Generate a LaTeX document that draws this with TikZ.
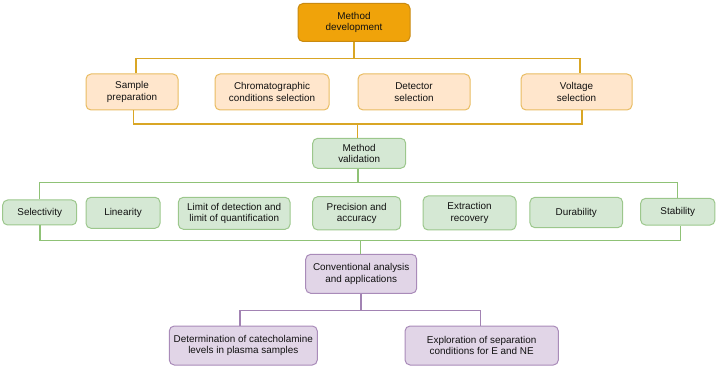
\documentclass[tikz,border=0pt]{standalone}
\usepackage{fontspec}
\setmainfont{Liberation Sans}
\definecolor{mdfill}{HTML}{F0A30A}
\definecolor{mddraw}{HTML}{C98A10}
\definecolor{ofill}{HTML}{FFE6CC}
\definecolor{odraw}{HTML}{E9BC62}
\definecolor{oline}{HTML}{D9A625}
\definecolor{gfill}{HTML}{D5E8D4}
\definecolor{gdraw}{HTML}{9CC78C}
\definecolor{gline}{HTML}{8FC276}
\definecolor{pfill}{HTML}{E1D5E7}
\definecolor{pdraw}{HTML}{A98BB9}
\definecolor{pline}{HTML}{A283B3}
\definecolor{txt}{HTML}{111111}
\tikzset{
  box/.style={rectangle, rounded corners=5pt, line width=1pt, align=center, inner sep=0pt,
    text=txt, font=\fontsize{9.9pt}{11.5pt}\selectfont},
  mdbox/.style={box, fill=mdfill, draw=mddraw},
  obox/.style={box, fill=ofill, draw=odraw},
  gbox/.style={box, fill=gfill, draw=gdraw},
  pbox/.style={box, fill=pfill, draw=pdraw},
  olink/.style={draw=oline, line width=1.2pt},
  glink/.style={draw=gline, line width=1.2pt},
  plink/.style={draw=pline, line width=1.2pt},
}
\begin{document}
\begin{tikzpicture}[x=1pt,y=-1pt]
\useasboundingbox (0,0) rectangle (717,371);
% nodes
\node[mdbox, minimum width=112pt, minimum height=38pt] (md) at (354,22.5) {Method\\development};
\node[obox, minimum width=92pt, minimum height=36pt] (sp) at (132,92) {Sample\\preparation};
\node[obox, minimum width=114pt, minimum height=36pt] (cc) at (272,92) {Chromatographic\\conditions selection};
\node[obox, minimum width=112pt, minimum height=36pt] (ds) at (414,92) {Detector\\selection};
\node[obox, minimum width=111pt, minimum height=36pt] (vs) at (576.5,92) {Voltage\\selection};
\node[gbox, minimum width=93pt, minimum height=30pt] (mv) at (359.2,153.3) {Method\\validation};
\node[gbox, minimum width=74pt, minimum height=25pt] (sel) at (39.7,212.5) {Selectivity};
\node[gbox, minimum width=74pt, minimum height=31pt] (lin) at (123,212.8) {Linearity};
\node[gbox, minimum width=111.7pt, minimum height=32pt] (lod) at (234.2,213.3) {Limit of detection and\\limit of quantification};
\node[gbox, minimum width=88pt, minimum height=33.3pt] (pa) at (356.7,213.3) {Precision and\\accuracy};
\node[gbox, minimum width=93pt, minimum height=34pt] (er) at (469.5,213) {Extraction\\recovery};
\node[gbox, minimum width=92.7pt, minimum height=30.4pt] (dur) at (576.3,212.5) {Durability};
\node[gbox, minimum width=74.3pt, minimum height=26.7pt] (sta) at (677.8,211.7) {Stability};
\node[pbox, minimum width=111pt, minimum height=39pt] (ca) at (361.2,273.8) {Conventional analysis\\and applications};
\node[pbox, minimum width=148pt, minimum height=39pt] (det) at (243.3,345.5) {Determination of catecholamine\\levels in plasma samples};
\node[pbox, minimum width=153.3pt, minimum height=39pt] (exp) at (481.7,345.5) {Exploration of separation\\conditions for E and NE};
% orange connectors
\coordinate (tl) at (136,58.3);
\coordinate (tr) at (580,58.3);
\coordinate (bl) at (133.3,124);
\coordinate (br) at (582,124);
\coordinate (bm) at (357.7,124);
\draw[olink] (md.south) -- (md.south |- tl);
\draw[olink] (sp.north -| tl) -- (tl) -- (tr) -- (vs.north -| tr);
\draw[olink] (sp.south -| bl) -- (bl) -- (br) -- (vs.south -| br);
\draw[olink] (bm) -- (bm |- mv.north);
% green connectors
\coordinate (gtl) at (39.3,182.7);
\coordinate (gtr) at (677.3,182.7);
\coordinate (gtm) at (358,182.7);
\coordinate (gbl) at (40,240.7);
\coordinate (gbr) at (680.7,240.7);
\coordinate (gbm) at (360.7,240.7);
\draw[glink] (gtm |- mv.south) -- (gtm);
\draw[glink] (sel.north -| gtl) -- (gtl) -- (gtr) -- (sta.north -| gtr);
\draw[glink] (sel.south -| gbl) -- (gbl) -- (gbr) -- (sta.south -| gbr);
\draw[glink] (gbm) -- (gbm |- ca.north);
% purple connectors
\coordinate (pl) at (240,310.7);
\coordinate (pr) at (480.7,310.7);
\coordinate (pm) at (361,310.7);
\draw[plink] (pm |- ca.south) -- (pm);
\draw[plink] (det.north -| pl) -- (pl) -- (pr) -- (exp.north -| pr);
\end{tikzpicture}
\end{document}
